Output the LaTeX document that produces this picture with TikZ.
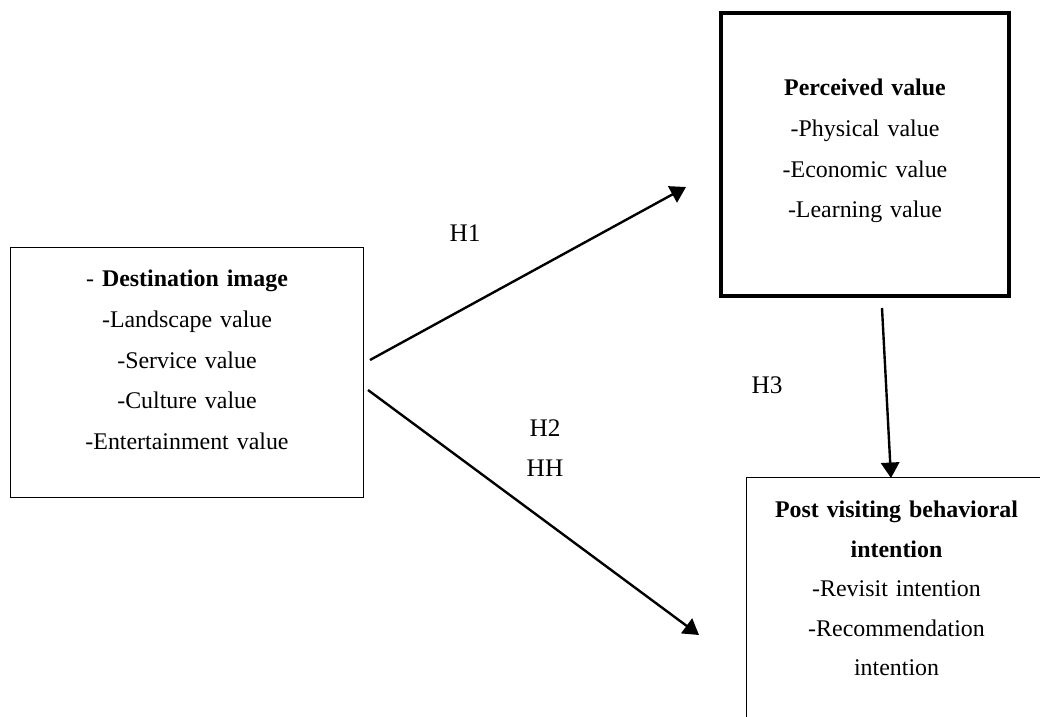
\documentclass[tikz,border=0pt]{standalone}
\usepackage{fontspec}
\setmainfont{Liberation Serif}
\usetikzlibrary{arrows.meta}
\tikzset{
  centered/.style = { align=center, anchor=center },
    factor/.style = { draw, line width=0.7pt, align=center, inner xsep=0pt,
                      font=\fontsize{17}{29}\selectfont },
  mediator/.style = { factor, line width=2.8pt },
   outcome/.style = { factor, font=\fontsize{17}{28}\selectfont },
      hypo/.style = { font=\fontsize{18}{20}\selectfont, centered },
     arrow/.style = { line width=1.7pt, -{Triangle[length=11pt,width=13pt]} },
}

\begin{document}
\begin{tikzpicture}[x=0.025cm, y=-0.025cm]
  \clip (0,0) rectangle (1040,717);
  % the three concepts
  \node (image) [factor, anchor=north, text width=8.8cm, inner ysep=16pt,
                 text depth=4.72cm] at (187,247)
    {- \textbf{Destination image}\\-Landscape value\\-Service value\\
     -Culture value\\-Entertainment value};
  \node (value) [mediator, anchor=north, text width=7.2cm, inner ysep=47pt,
                 text depth=3.36cm] at (865,11)
    {\textbf{Perceived value}\\-Physical value\\-Economic value\\-Learning value};
  \node (intent) [outcome, anchor=north west, text width=7.3cm, inner xsep=0.1cm,
                  inner ysep=17pt, text depth=7cm] at (746,477)
    {\textbf{Post visiting behavioral}\\\textbf{intention}\\-Revisit intention\\
     -Recommendation\\intention};
  % free ends of the paths
  \coordinate (h1from) at (370,360);
  \coordinate (h1to)   at (686,187);
  \coordinate (h2from) at (368,390);
  \coordinate (h2to)   at (699,635);
  \coordinate (h3from) at (882,308);
  \coordinate (h3to)   at (891,478);
  \draw [arrow] (h1from) -- (h1to);
  \draw [arrow] (h2from) -- (h2to);
  \draw [arrow] (h3from) -- (h3to);
  % hypotheses
  \node (h1) [hypo] at (465,233) {H1};
  \node (h2) [hypo] at (545,428) {H2};
  \node (hh) [hypo] at (545,468) {HH};
  \node (h3) [hypo] at (767,385) {H3};
\end{tikzpicture}
\end{document}
